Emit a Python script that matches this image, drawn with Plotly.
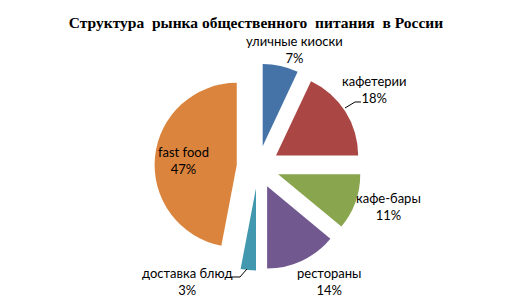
import plotly.graph_objects as go

labels = ["уличные киоски", "кафетерии", "кафе-бары", "рестораны", "доставка блюд", "fast food"]
values = [7, 18, 11, 14, 3, 47]
colors = ["#4572A7", "#AA4643", "#89A54E", "#71588F", "#4198AF", "#DB843D"]

# label anchor points (page px: x, y) for text placement
label_px = {
    "уличные киоски": (294, 49),
    "кафетерии": (374, 90),
    "кафе-бары": (388, 207),
    "рестораны": (329, 281),
    "доставка блюд": (187, 281),
    "fast food": (183, 161),
}
# short leader lines (page px polylines) joining two labels to their slices
leaders = [
    [(345, 108), (355, 102), (361, 102)],
    [(231, 277), (240, 277), (247, 269)],
]

W, H = 514, 302
font_family = "Lato, Open Sans, sans-serif"

fig = go.Figure(go.Pie(
    labels=labels,
    values=values,
    sort=False,
    direction="clockwise",
    rotation=0,
    pull=[0.26] * len(values),
    marker=dict(colors=colors, line=dict(width=0)),
    textinfo="none",
    showlegend=False,
    domain=dict(x=[0.3006, 0.7033], y=[0.1043, 0.7897]),
    hoverinfo="label+percent",
))

total = sum(values)
for lab, val in zip(labels, values):
    px, py = label_px[lab]
    pct = round(100 * val / total)
    fig.add_annotation(
        x=px / W, y=1 - py / H, xref="paper", yref="paper",
        text=f"{lab}<br>{pct}%", showarrow=False,
        xanchor="center", yanchor="middle", align="center",
        font=dict(family=font_family, size=13, color="#000000"),
    )

for pts in leaders:
    path = "M " + " L ".join(f"{x / W:.4f},{1 - y / H:.4f}" for x, y in pts)
    fig.add_shape(type="path", path=path, xref="paper", yref="paper",
                  line=dict(color="#000000", width=1))

fig.update_layout(
    width=W, height=H,
    margin=dict(l=0, r=0, t=0, b=0),
    paper_bgcolor="white",
    title=dict(
        text="<b>Структура  рынка общественного  питания  в России</b>",
        x=0.498, xanchor="center", y=0.925, yanchor="middle",
        font=dict(family="Liberation Serif, Times New Roman, serif", size=15.5, color="#000000"),
    ),
)

fig.write_html("out.html", config={"displayModeBar": False},
               post_script="document.body.style.margin='0';")
